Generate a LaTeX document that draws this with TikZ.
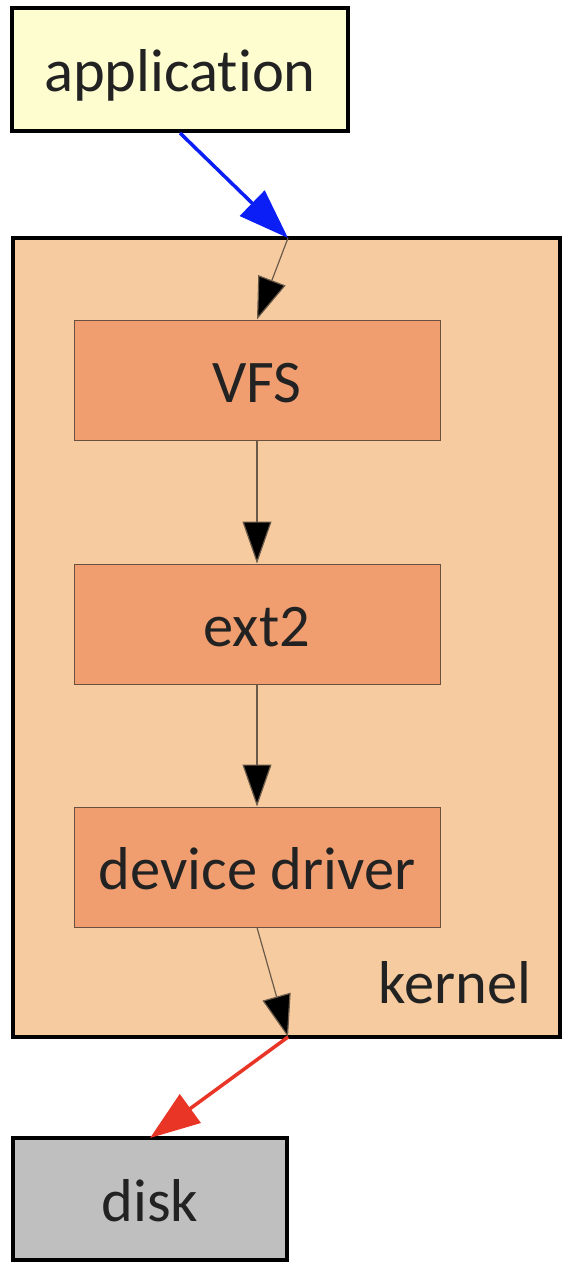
\documentclass[tikz,border=0pt]{standalone}
\usepackage{fontspec}
\setmainfont[RawFeature=-liga]{Carlito}
\usetikzlibrary{arrows.meta}
\definecolor{appfill}{HTML}{FEFDD0}
\definecolor{kernfill}{HTML}{F7CBA0}
\definecolor{boxfill}{HTML}{F09E70}
\definecolor{boxline}{HTML}{6A5040}
\definecolor{diskfill}{HTML}{BFBFBF}
\definecolor{txt}{HTML}{222222}
\definecolor{arrblue}{HTML}{0A1EF5}
\definecolor{arrred}{HTML}{E83525}
\definecolor{thinline}{HTML}{6A5A4A}
\tikzset{
  lbl/.style={font=\fontsize{60.5}{70}\selectfont, text=txt},
  boxlbl/.style={lbl, text height=45pt, text depth=0pt},
  outerbox/.style={boxlbl, draw=black, line width=4pt, inner sep=0pt},
  innerbox/.style={boxlbl, draw=boxline, fill=boxfill, line width=1pt, minimum width=366pt, minimum height=120pt, inner sep=0pt},
  thinarr/.style={draw=thinline, line width=1.2pt, -{Triangle[length=42pt,width=29pt,fill=black]}},
  fatarr/.style={line width=3.5pt, -{Triangle[length=50pt,width=35pt]}},
}
\begin{document}
\begin{tikzpicture}[x=1pt,y=-1pt]
\useasboundingbox (0,0) rectangle (562,1263);
\node[outerbox, fill=kernfill, line width=3.5pt, minimum width=547pt, minimum height=799pt] (kernel) at (286.5,637.5) {};
\node[lbl, anchor=base east] (klabel) at (535,1003) {kernel};
\node[outerbox, fill=appfill, minimum width=336pt, minimum height=123pt] (app) at (180,69.5) {application};
\node[innerbox] (vfs) at (257,380) {VFS};
\node[innerbox] (ext) at (257,624) {ext2};
\node[innerbox] (dd) at (257,867) {device driver};
\node[outerbox, fill=diskfill, minimum width=274pt, minimum height=122pt] (disk) at (150,1199) {disk};
\coordinate (kin) at (288,238);
\coordinate (kout) at (288,1037);
\draw[fatarr, draw=arrblue, fill=arrblue] (app.south) -- (kin);
\draw[thinarr] (kin) -- (vfs.north);
\draw[thinarr] (vfs.south) -- (ext.north);
\draw[thinarr] (ext.south) -- (dd.north);
\draw[thinarr] (dd.south) -- (kout);
\draw[fatarr, draw=arrred, fill=arrred] (kout) -- ([yshift=-2pt]disk.north);
\end{tikzpicture}
\end{document}
